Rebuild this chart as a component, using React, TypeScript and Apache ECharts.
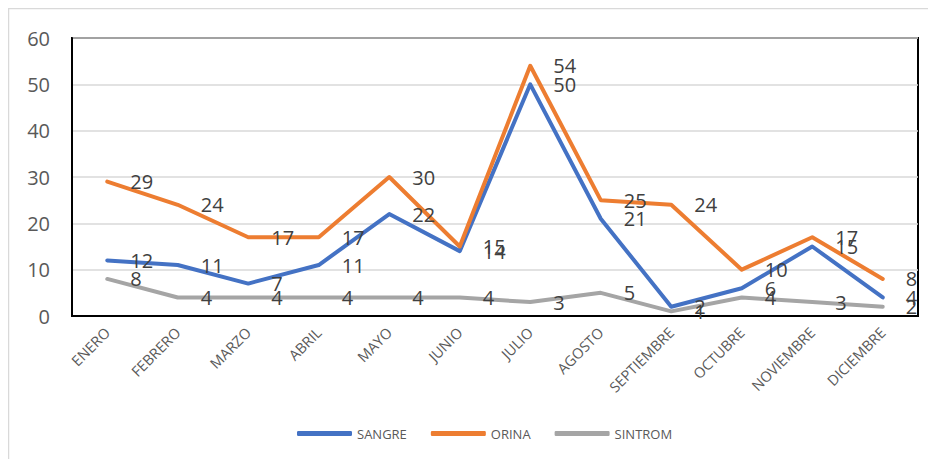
import React, { useEffect, useRef } from "react";
import * as echarts from "echarts";

const months = ["ENERO", "FEBRERO", "MARZO", "ABRIL", "MAYO", "JUNIO", "JULIO", "AGOSTO", "SEPTIEMBRE", "OCTUBRE", "NOVIEMBRE", "DICIEMBRE"];
const sangre = [12, 11, 7, 11, 22, 14, 50, 21, 2, 6, 15, 4];
const orina = [29, 24, 17, 17, 30, 15, 54, 25, 24, 10, 17, 8];
const sintrom = [8, 4, 4, 4, 4, 4, 3, 5, 1, 4, 3, 2];

const FONT = "'Open Sans', sans-serif";

function mkSeries(name: string, data: number[], color: string) {
  return {
    name,
    type: "line",
    data,
    symbol: "circle",
    symbolSize: 0,
    showSymbol: true,
    itemStyle: { color },
    lineStyle: { color, width: 4, cap: "round", join: "round" },
    label: {
      show: true,
      position: "right",
      distance: 23,
      fontSize: 20,
      fontFamily: FONT,
      color: "#404040",
    },
    emphasis: { disabled: true },
  };
}

export default function App() {
  const ref = useRef<HTMLDivElement>(null);
  useEffect(() => {
    if (!ref.current) return;
    const chart = echarts.init(ref.current, null, { renderer: "svg" });
    chart.setOption({
      animation: false,
      textStyle: { fontFamily: FONT },
      graphic: [
        {
          type: "rect",
          shape: { x: 0.5, y: 0.5, width: 1200, height: 1200 },
          style: { fill: "none", stroke: "#d9d9d9", lineWidth: 1.5 },
          silent: true,
          z: -10,
        },
      ],
      grid: {
        left: 64,
        top: 30,
        right: 26,
        bottom: 151,
        show: true,
        borderColor: "#000",
        borderWidth: 2,
        backgroundColor: "transparent",
      },
      legend: {
        bottom: 22,
        left: 284,
        icon: "roundRect",
        itemWidth: 55,
        itemHeight: 5,
        itemGap: 24,
        textStyle: { fontSize: 13, color: "#595959", fontFamily: FONT },
        data: ["SANGRE", "ORINA", "SINTROM"],
      },
      xAxis: {
        type: "category",
        data: months,
        boundaryGap: true,
        axisTick: { show: false },
        axisLine: { show: true, lineStyle: { color: "#000", width: 2 } },
        axisLabel: {
          interval: 0,
          rotate: 45,
          fontSize: 14.5,
          color: "#595959",
          margin: 14,
          fontFamily: FONT,
        },
      },
      yAxis: {
        type: "value",
        min: 0,
        max: 60,
        interval: 10,
        axisLine: { show: true, lineStyle: { color: "#000", width: 2 } },
        axisTick: { show: false },
        splitLine: { show: true, lineStyle: { color: "#d9d9d9", width: 1.5 } },
        axisLabel: { fontSize: 20, color: "#595959", margin: 22, fontFamily: FONT },
      },
      series: [
        mkSeries("SANGRE", sangre, "#4472C4"),
        mkSeries("ORINA", orina, "#ED7D31"),
        mkSeries("SINTROM", sintrom, "#A5A5A5"),
      ],
    });
    return () => chart.dispose();
  }, []);
  return <div ref={ref} style={{ width: 936, height: 459 }} />;
}
